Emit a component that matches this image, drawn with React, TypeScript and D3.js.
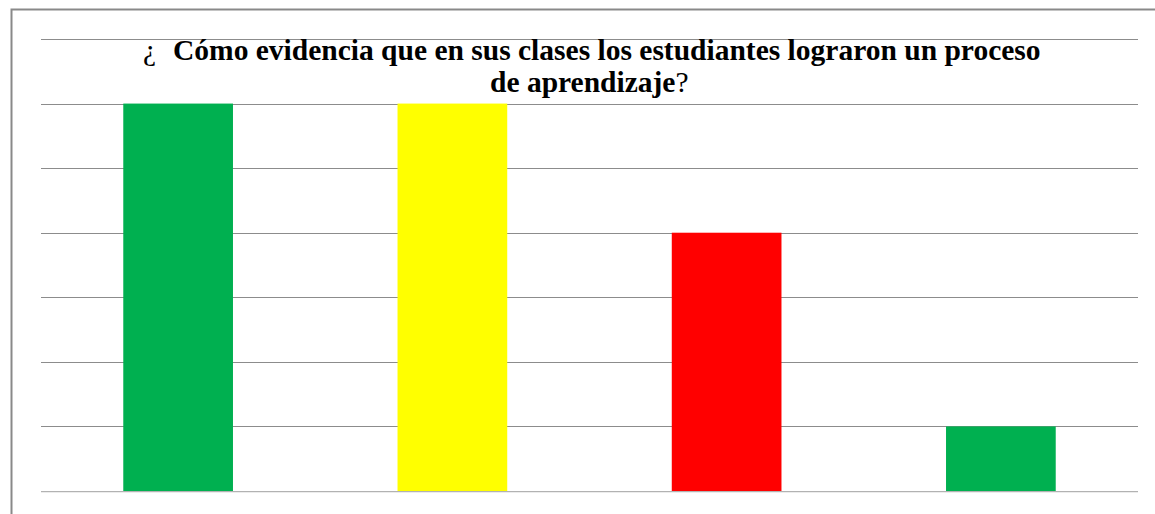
import { useEffect, useRef } from "react";
import * as d3 from "d3";

// Data (no axis labels shown in the reference)
const categories = ["A", "B", "C", "D"];
const values = [6, 6, 4, 1];
const barColors = ["#00B050", "#FFFF00", "#FF0000", "#00B050"];
const yTicks = [0, 1, 2, 3, 4, 5, 6, 7];
const titleLine1 = "Cómo evidencia que en sus clases los estudiantes lograron un proceso";
const titleLine2 = "de aprendizaje";

const WIDTH = 1155;
const HEIGHT = 514;

function App() {
  const ref = useRef<SVGSVGElement | null>(null);

  useEffect(() => {
    if (!ref.current) return;
    const svg = d3.select(ref.current);
    svg.selectAll("*").remove();

    const MARGIN = { top: 39, right: 17, bottom: 23, left: 41 };

    svg
      .append("rect")
      .attr("x", 11.5)
      .attr("y", 9.5)
      .attr("width", WIDTH)
      .attr("height", HEIGHT)
      .attr("fill", "white")
      .attr("stroke", "#898989")
      .attr("stroke-width", 2);

    const x = d3
      .scaleBand()
      .domain(categories)
      .range([MARGIN.left, WIDTH - MARGIN.right])
      .paddingInner(0.6)
      .paddingOuter(0.3);

    const y = d3
      .scaleLinear()
      .domain([0, 7])
      .range([HEIGHT - MARGIN.bottom, MARGIN.top]);

    // gridlines
    svg
      .append("g")
      .selectAll("line")
      .data(yTicks)
      .join("line")
      .attr("x1", MARGIN.left)
      .attr("x2", WIDTH - MARGIN.right)
      .attr("y1", (d) => Math.round(y(d)) + 0.5)
      .attr("y2", (d) => Math.round(y(d)) + 0.5)
      .attr("stroke", "#8c8c8c")
      .attr("stroke-width", 1.2);

    svg
      .append("g")
      .selectAll("rect")
      .data(values)
      .join("rect")
      .attr("x", (_, i) => x(categories[i]) || 0)
      .attr("y", (d) => y(d))
      .attr("width", x.bandwidth())
      .attr("height", (d) => y(0) - y(d))
      .attr("fill", (_, i) => barColors[i]);

    // baseline
    svg
      .append("line")
      .attr("x1", MARGIN.left)
      .attr("x2", WIDTH - MARGIN.right)
      .attr("y1", y(0) + 1)
      .attr("y2", y(0) + 1)
      .attr("stroke", "#d9d9d9")
      .attr("stroke-width", 1);

    const title = svg
      .append("g")
      .style("font-family", '"Liberation Serif", "Times New Roman", serif')
      .style("font-size", "29.5px")
      .attr("fill", "black");

    // first line: regular "¿" then bold text
    title.append("text").attr("x", 143).attr("y", 60).text("¿");
    title
      .append("text")
      .attr("x", 173)
      .attr("y", 60)
      .style("font-weight", "bold")
      .text(titleLine1);

    const t2 = title.append("text").attr("x", 490).attr("y", 92);
    t2.append("tspan").style("font-weight", "bold").text(titleLine2);
    t2.append("tspan").text("?");
  }, []);

  return (
    <svg
      ref={ref}
      width={WIDTH}
      height={HEIGHT}
      style={{ position: "absolute", left: 0, top: 0, display: "block" }}
    />
  );
}

export default App;
